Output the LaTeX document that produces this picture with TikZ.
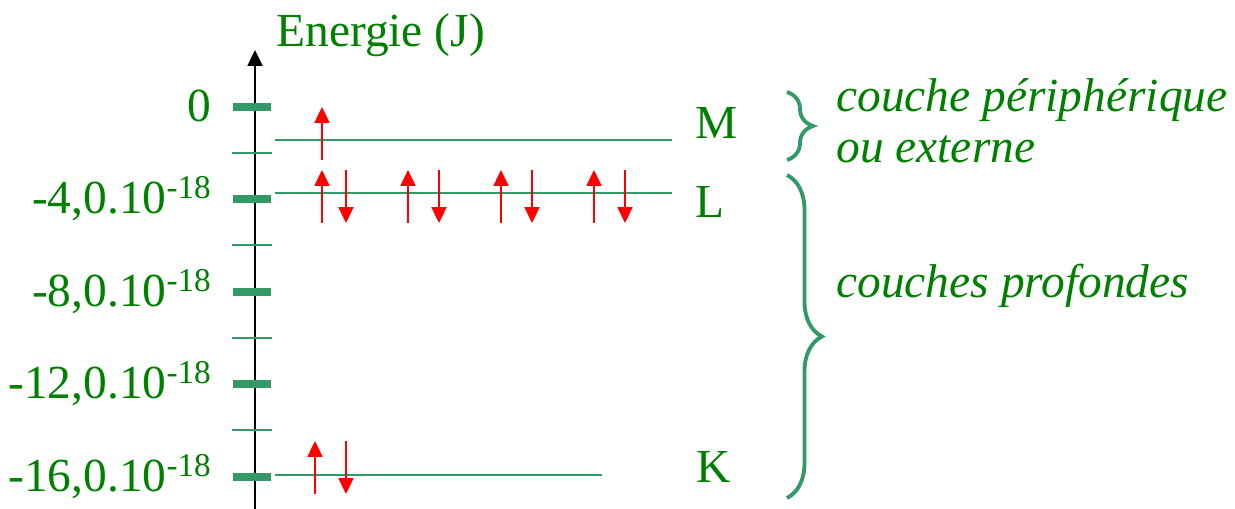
\documentclass[tikz,border=0pt]{standalone}
\usepackage{fontspec}
\setmainfont{Liberation Serif}
\usetikzlibrary{arrows.meta,positioning,decorations.pathreplacing}
\definecolor{levelgreen}{RGB}{51,153,102}
\definecolor{textgreen}{RGB}{0,128,0}

\begin{document}
\begin{tikzpicture}[
    x=0.02cm, y=-0.02cm,
    lbl/.style={text=textgreen, font=\fontsize{27}{30}\selectfont, inner sep=0pt},
    note/.style={lbl, font=\fontsize{27}{30}\selectfont\itshape},
    axis/.style={-{Triangle[width=8.5pt, length=9pt]}, line width=1.1pt, black},
    major/.style={levelgreen, line width=4pt},
    minor/.style={levelgreen, line width=1.1pt},
    level/.style={levelgreen, line width=1.2pt},
    spin/.style={-{Triangle[width=8.5pt, length=9pt]}, red, line width=1.1pt},
    brace/.style={decorate, decoration={brace, amplitude=#1}, levelgreen, line width=2.2pt}
]
\useasboundingbox (0,0) rectangle (1235,509);
% axis
\coordinate (abot) at (255,509);
\coordinate (atop) at (255,50);
\draw[axis] (abot) -- (atop);
\node[lbl, anchor=base west] (ylabel) at (276,47) {Energie (J)};
% graduations
\foreach \y/\t [count=\i] in {107/0, 199/{-4,0.10\textsuperscript{-18}},
    292/{-8,0.10\textsuperscript{-18}}, 384/{-12,0.10\textsuperscript{-18}},
    477/{-16,0.10\textsuperscript{-18}}} {
  \draw[major] (233,\y) -- (271,\y);
  \node[lbl, anchor=base east] (tick\i) at (212,\y+15) {\t};
}
\foreach \y in {153,245,338,430}
  \draw[minor] (232,\y) -- (272,\y);
% levels
\coordinate (M0) at (275,140); \coordinate (M1) at (672,140);
\coordinate (L0) at (275,193); \coordinate (L1) at (672,193);
\coordinate (K0) at (275,475); \coordinate (K1) at (602,475);
\draw[level] (M0) -- (M1);
\draw[level] (L0) -- (L1);
\draw[level] (K0) -- (K1);
\node[lbl, anchor=base west] (M) at (695,139) {M};
\node[lbl, anchor=base west] (L) at (695,218) {L};
\node[lbl, anchor=base west] (K) at (696,483) {K};
% electrons
\draw[spin] (322,160) -- (322,107);
\foreach \u/\d in {322/346, 408/439, 501/532, 594/625} {
  \draw[spin] (\u,223) -- (\u,170);
  \draw[spin] (\d,170) -- (\d,223);
}
\draw[spin] (315,494) -- (315,441);
\draw[spin] (346,441) -- (346,494);
% braces
\draw[brace=0.52cm] (787,92) -- (787,160);
\draw[brace=0.7cm] (787,175) -- (787,498);
\node[note, anchor=base west] (outer) at (836,112) {couche périphérique};
\node[note, anchor=base west] (outer2) at (836,163) {ou externe};
\node[note, anchor=base west] (deep) at (836,298) {couches profondes};
\end{tikzpicture}
\end{document}
